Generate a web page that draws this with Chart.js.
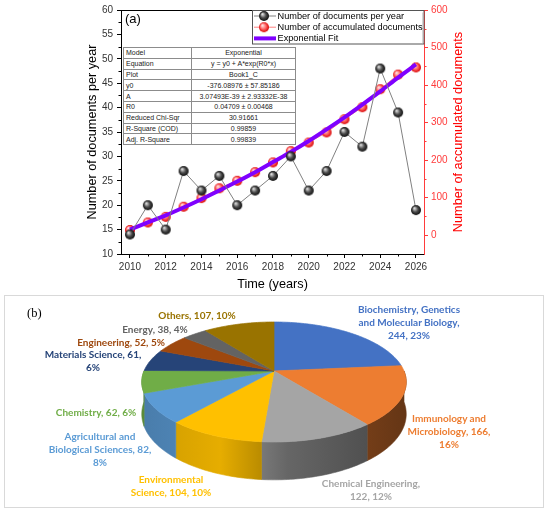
<!DOCTYPE html>
<html><head><meta charset="utf-8">
<script src="https://cdn.jsdelivr.net/npm/chart.js@4.4.1/dist/chart.umd.min.js"></script>
<style>
html,body{margin:0;padding:0;background:#fff}
body{width:550px;height:513px;position:relative;overflow:hidden;font-family:"Liberation Sans",Arial,sans-serif}
#ca{position:absolute;left:0;top:0}
#boxb{position:absolute;left:4px;top:295px;width:540px;height:213px;border:1px solid #d9d9d9;box-sizing:border-box}
#cb{position:absolute;left:0;top:295px}
#fit{position:absolute;left:123px;top:47px;border-collapse:collapse;font-size:7px;background:#fff;color:#222;font-family:"Liberation Sans",Arial,sans-serif}
#fit td{border:1px solid #8c8c8c;padding:0 2px;height:9.8px;line-height:9px;white-space:nowrap}
#fit td.k{width:63px;text-align:left}
#fit td.v{width:99px;text-align:center}
.pl{position:absolute;width:170px;text-align:center;font-family:Lato,"Open Sans",sans-serif;font-weight:700;font-size:10px;line-height:13px;white-space:nowrap}
#lb{position:absolute;left:27px;top:306px;font-family:"Liberation Serif","DejaVu Serif",serif;font-size:12.5px;color:#000}
</style>
</head><body>
<canvas id="ca" width="550" height="295"></canvas>
<table id="fit"></table>
<div id="boxb"></div>
<canvas id="cb" width="550" height="218"></canvas>
<div id="lb">(b)</div>
<script>
// ---------- DATA ----------
const years = [2010,2011,2012,2013,2014,2015,2016,2017,2018,2019,2020,2021,2022,2023,2024,2025,2026];
const docsPerYear = [14,20,15,27,23,26,20,23,26,30,23,27,35,32,48,39,19];
const accumulatedDocs = [14,34,49,76,99,125,145,168,194,224,247,274,309,341,389,428,447];
const fitValues = [15,34,53,74,96,119,143,168,195,222,251,282,314,348,383,420,455];
const xTickLabels = [2010,2012,2014,2016,2018,2020,2022,2024,2026];
const leftTickLabels = [10,15,20,25,30,35,40,45,50,55,60];
const rightTickLabels = [0,100,200,300,400,500,600];
const seriesNames = ['Number of documents per year','Number of accumulated documents','Exponential Fit'];
const fitTableLabels = ['Model','Equation','Plot','y0','A','R0','Reduced Chi-Sqr','R-Square (COD)','Adj. R-Square'];
const fitTableValues = ['Exponential','y = y0 + A*exp(R0*x)','Book1_C','-376.08976 \u00b1 57.85186','3.07493E-39 \u00b1 2.93332E-38','0.04709 \u00b1 0.00468','30.91661','0.99859','0.99839'];

const pieCategories = ['Biochemistry, Genetics and Molecular Biology','Immunology and Microbiology','Chemical Engineering','Environmental Science','Agricultural and Biological Sciences','Chemistry','Materials Science','Engineering','Energy','Others'];
const pieValues = [244,166,122,104,82,62,61,52,38,107];
const piePercents = [23,16,12,10,8,6,6,5,4,10];

// ---------- STYLE / LAYOUT ----------
const pieColors = ['#4472C4','#ED7D31','#A5A5A5','#FFC000','#5B9BD5','#70AD47','#264478','#9E480E','#636363','#997300'];
const labelLayout = [
  {x:409,y:309,lines:[2,3,2]},
  {x:449,y:418,lines:[2,2,1]},
  {x:371,y:483,lines:[2,2]},
  {x:171,y:479,lines:[1,3]},
  {x:100,y:436,lines:[2,3,1]},
  {x:96,y:412,lines:[3]},
  {x:93,y:354,lines:[3,1]},
  {x:121,y:342,lines:[3]},
  {x:155,y:329,lines:[3]},
  {x:197,y:315,lines:[3]}
];
const F = '"Liberation Sans", Arial, sans-serif';
const RED = '#ff3b3b';

function sphere(r, c0, c1, c2){
  const d = 2*r+2, c = document.createElement('canvas');
  c.width = d; c.height = d;
  const g = c.getContext('2d');
  const grd = g.createRadialGradient(r+1-r*0.35, r+1-r*0.4, r*0.05, r+1, r+1, r);
  grd.addColorStop(0, c0); grd.addColorStop(0.55, c1); grd.addColorStop(1, c2);
  g.fillStyle = grd; g.beginPath(); g.arc(r+1, r+1, r, 0, Math.PI*2); g.fill();
  return c;
}
const blackBall = sphere(5, '#e8e8e8', '#4a4a4a', '#0e0e0e');
const redBall = sphere(5, '#ffeaea', '#ff6666', '#d80000');

// ---------- TABLE ----------
(function(){
  const t = document.getElementById('fit');
  fitTableLabels.forEach((k,i)=>{
    const tr = document.createElement('tr');
    const a = document.createElement('td'); a.className='k'; a.textContent = k;
    const b = document.createElement('td'); b.className='v'; b.textContent = fitTableValues[i];
    tr.appendChild(a); tr.appendChild(b); t.appendChild(tr);
  });
})();

// ---------- CHART (a) ----------
const extrasA = {
  id:'extrasA',
  afterDraw(chart){
    const ctx = chart.ctx, ca = chart.chartArea;
    const sx = chart.scales.x, sy = chart.scales.y, sy1 = chart.scales.y1;
    ctx.save();
    // top frame
    ctx.strokeStyle = '#000'; ctx.lineWidth = 1;
    ctx.beginPath(); ctx.moveTo(ca.left, ca.top+0.5); ctx.lineTo(ca.right, ca.top+0.5); ctx.stroke();
    // minor ticks
    ctx.beginPath();
    years.forEach(y=>{ if(!xTickLabels.includes(y)){ const px=Math.round(sx.getPixelForValue(y))+0.5; ctx.moveTo(px, ca.bottom); ctx.lineTo(px, ca.bottom+2.5);} });
    for(let i=0;i<leftTickLabels.length-1;i++){ const v=(leftTickLabels[i]+leftTickLabels[i+1])/2; const py=Math.round(sy.getPixelForValue(v))+0.5; ctx.moveTo(ca.left, py); ctx.lineTo(ca.left-2.5, py); }
    ctx.stroke();
    ctx.strokeStyle = RED; ctx.beginPath();
    for(let i=0;i<rightTickLabels.length-1;i++){ const v=(rightTickLabels[i]+rightTickLabels[i+1])/2; const py=Math.round(sy1.getPixelForValue(v))+0.5; ctx.moveTo(ca.right, py); ctx.lineTo(ca.right+2.5, py); }
    ctx.stroke();
    // right axis title
    ctx.save();
    ctx.translate(458, (ca.top+ca.bottom)/2); ctx.rotate(-Math.PI/2);
    ctx.fillStyle = '#ff0000'; ctx.font = '12.7px '+F; ctx.textAlign='center'; ctx.textBaseline='middle';
    ctx.fillText('Number of accumulated documents', 0, 0);
    ctx.restore();
    // panel label
    ctx.fillStyle='#000'; ctx.font='13px '+F; ctx.textAlign='left'; ctx.textBaseline='middle';
    ctx.fillText('(a)', ca.left+4, ca.top+9);
    // legend
    const lx=252.5, ly=ca.top+0.5, lw=ca.right-252.5, lh=33.5;
    ctx.fillStyle='#fff'; ctx.fillRect(lx, ly, lw, lh);
    ctx.strokeStyle='#555'; ctx.lineWidth=1; ctx.strokeRect(lx, ly, lw, lh);
    ctx.beginPath(); ctx.strokeStyle='#aaa'; ctx.moveTo(lx+lw-1, ly+2); ctx.lineTo(lx+lw-1, ly+lh-1); ctx.stroke();
    chart.data.datasets.forEach((ds,i)=>{
      const yy = ly + 5.5 + i*11.2;
      ctx.strokeStyle = ds.borderColor; ctx.lineWidth = ds.borderWidth;
      ctx.beginPath(); ctx.moveTo(254, yy); ctx.lineTo(276, yy); ctx.stroke();
      if (ds.pointStyle && ds.pointRadius>0) ctx.drawImage(ds.pointStyle, 264-ds.pointStyle.width/2, yy-ds.pointStyle.height/2);
      ctx.fillStyle='#000'; ctx.font='9.2px '+F; ctx.textAlign='left'; ctx.textBaseline='middle';
      ctx.fillText(ds.label, 277.5, yy+0.5);
    });
    ctx.restore();
  }
};

new Chart(document.getElementById('ca'), {
  type:'line',
  data:{datasets:[
    {label:seriesNames[0], data:years.map((y,i)=>({x:y,y:docsPerYear[i]})), yAxisID:'y', borderColor:'#808080', borderWidth:1, pointStyle:blackBall, pointRadius:5, order:0},
    {label:seriesNames[1], data:years.map((y,i)=>({x:y,y:accumulatedDocs[i]})), yAxisID:'y1', borderColor:'#ff8080', borderWidth:1, pointStyle:redBall, pointRadius:5, order:2},
    {label:seriesNames[2], data:years.map((y,i)=>({x:y,y:fitValues[i]})), yAxisID:'y1', borderColor:'#7f00ff', borderWidth:4, pointRadius:0, cubicInterpolationMode:'monotone', order:1}
  ]},
  options:{
    responsive:false, animation:false, devicePixelRatio:1,
    layout:{padding:{top:10,left:0,right:0,bottom:0}},
    plugins:{legend:{display:false}, tooltip:{enabled:false}},
    scales:{
      x:{type:'linear', min:2009.5, max:2026.45,
        afterBuildTicks:s=>{ s.ticks = xTickLabels.map(v=>({value:v})); },
        afterFit:s=>{ s.height = 41; },
        grid:{drawOnChartArea:false, drawTicks:true, tickLength:4, tickColor:'#000'},
        border:{color:'#000', width:1},
        ticks:{autoSkip:false, maxRotation:0, padding:3, color:'#333', font:{family:F,size:10}, callback:v=>String(v)},
        title:{display:true, text:'Time (years)', color:'#000', font:{family:F,size:12.7}, padding:{top:0,bottom:2.4}}
      },
      y:{position:'left', min:10, max:60,
        afterBuildTicks:s=>{ s.ticks = leftTickLabels.map(v=>({value:v})); },
        afterFit:s=>{ s.width = 121; },
        grid:{drawOnChartArea:false, tickLength:4, tickColor:'#000'},
        border:{color:'#000', width:1},
        ticks:{padding:4, color:'#333', font:{family:F,size:10}},
        title:{display:true, text:'Number of documents per year', color:'#000', font:{family:F,size:12.7}, padding:{top:84.4,bottom:0}}
      },
      y1:{position:'right', min:-50, max:600,
        afterBuildTicks:s=>{ s.ticks = rightTickLabels.map(v=>({value:v})); },
        afterFit:s=>{ s.width = 126; },
        grid:{drawOnChartArea:false, tickLength:4, tickColor:RED},
        border:{color:RED, width:1},
        ticks:{padding:3, color:RED, font:{family:F,size:10}}
      }
    }
  },
  plugins:[extrasA]
});

// ---------- CHART (b) : 3D pie ----------
const TILT = 0.446, DEPTH = 0.238, PERSP = 0.183;
function shade(hex, f){
  const n = parseInt(hex.slice(1),16);
  const r=Math.round(((n>>16)&255)*f), g=Math.round(((n>>8)&255)*f), b=Math.round((n&255)*f);
  return 'rgb('+r+','+g+','+b+')';
}
const pie3d = {
  id:'pie3d',
  beforeDatasetsDraw(chart){
    const ctx = chart.ctx, arcs = chart.getDatasetMeta(0).data;
    if(!arcs.length) return false;
    const cx = arcs[0].x, cy = arcs[0].y, R = arcs[0].outerRadius;
    const a = R*TILT, h = R*DEPTH, p = PERSP;
    const P = (t, r, z) => { const X3 = r*Math.cos(t), Y3 = r*Math.sin(t); const s = 1/(1-p*Y3); return [cx + R*X3*s, cy + (a*Y3 + h*z)*s]; };
    ctx.save();
    // side walls
    arcs.forEach((arc, i) => {
      const s0 = arc.startAngle, e0 = arc.endAngle, col = arc.options.backgroundColor;
      for(let k=-1;k<=2;k++){
        const lo = Math.max(s0, 2*Math.PI*k), hi = Math.min(e0, 2*Math.PI*k + Math.PI);
        if(hi <= lo) continue;
        const n = Math.max(4, Math.ceil((hi-lo)*60));
        ctx.beginPath();
        for(let j=0;j<=n;j++){ const t=lo+(hi-lo)*j/n; const q=P(t,1,0); j?ctx.lineTo(q[0],q[1]):ctx.moveTo(q[0],q[1]); }
        for(let j=n;j>=0;j--){ const t=lo+(hi-lo)*j/n; const q=P(t,1,1); ctx.lineTo(q[0],q[1]); }
        ctx.closePath();
        const g = ctx.createLinearGradient(cx-R*1.03, 0, cx+R*1.03, 0);
        g.addColorStop(0, shade(col,0.8)); g.addColorStop(0.3, shade(col,0.9));
        g.addColorStop(0.55, shade(col,0.62)); g.addColorStop(1, shade(col,0.42));
        ctx.fillStyle = g; ctx.fill();
        ctx.strokeStyle = g; ctx.lineWidth = 0.6; ctx.stroke();
      }
    });
    // top faces
    arcs.forEach(arc => {
      const s0 = arc.startAngle, e0 = arc.endAngle, col = arc.options.backgroundColor;
      const n = Math.max(4, Math.ceil((e0-s0)*60));
      ctx.beginPath(); ctx.moveTo(cx, cy);
      for(let j=0;j<=n;j++){ const t=s0+(e0-s0)*j/n; const q=P(t,1,0); ctx.lineTo(q[0],q[1]); }
      ctx.closePath();
      ctx.fillStyle = col; ctx.fill();
      ctx.strokeStyle = col; ctx.lineWidth = 0.7; ctx.stroke();
    });
    ctx.restore();
    return false;
  }
};
new Chart(document.getElementById('cb'), {
  type:'pie',
  data:{labels:pieCategories, datasets:[{data:pieValues, backgroundColor:pieColors, borderWidth:0, radius:130}]},
  options:{responsive:false, animation:false, devicePixelRatio:1,
    layout:{padding:{left:0,right:2,top:0,bottom:66}},
    plugins:{legend:{display:false}, tooltip:{enabled:false}}},
  plugins:[pie3d]
});

// pie data labels
pieCategories.forEach((name, i) => {
  const L = labelLayout[i];
  const words = (name + ', ' + pieValues[i] + ', ' + piePercents[i] + '%').split(' ');
  const lines = []; let w = 0;
  L.lines.forEach(c => { lines.push(words.slice(w, w+c).join(' ')); w += c; });
  const d = document.createElement('div');
  d.className = 'pl';
  d.style.left = (L.x - 85) + 'px';
  d.style.top = (L.y - 6.5) + 'px';
  d.style.color = pieColors[i];
  lines.forEach((ln, j) => { if(j) d.appendChild(document.createElement('br')); d.appendChild(document.createTextNode(ln)); });
  document.body.appendChild(d);
});
</script>
</body></html>
